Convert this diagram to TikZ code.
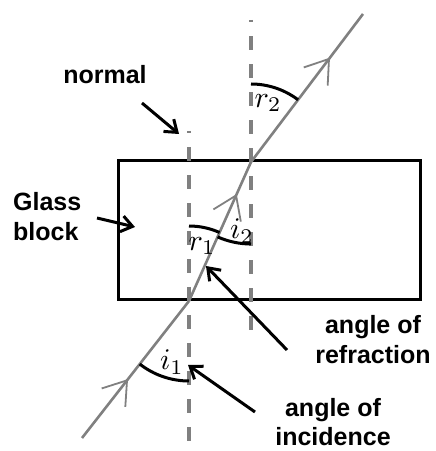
\RequirePackage{fix-cm}
\documentclass[tikz,border=0pt]{standalone}
\usepackage{fontspec}
\setmainfont{Liberation Sans}
\usetikzlibrary{arrows.meta,decorations.markings}
\definecolor{rayc}{RGB}{128,128,128}
\definecolor{normc}{RGB}{128,128,128}
\begin{document}
\begin{tikzpicture}[x=1pt,y=1pt,
  lbl/.style={font=\fontsize{25}{30}\selectfont\bfseries, align=center, inner sep=0pt},
  pointer/.style={line width=3pt, -{Straight Barb[length=11pt,width=16pt]}},
  normalline/.style={draw=normc, line width=3.5pt, dash pattern=on 13.5pt off 14.5pt},
  ray/.style={draw=rayc, line width=2.6pt},
  anglearc/.style={line width=3pt},
  raymark/.style={postaction={decorate}, decoration={markings, mark=at position #1 with {\arrow[line width=1.8pt]{Straight Barb[length=22pt,width=30pt]}}}},
  sym/.style={scale=3, inner sep=0pt}]
\useasboundingbox (0,0) rectangle (436,451);

% glass block
\node[draw, line width=3pt, minimum width=302pt, minimum height=139pt, inner sep=0pt, anchor=south west] (block) at (117,150) {};

% normals
\coordinate (N1top) at (189,320);
\coordinate (N1bot) at (189,0);
\coordinate (N2top) at (251,431);
\coordinate (N2bot) at (251,114);
\draw[normalline, dash phase=11.5pt] (N1top) -- (N1bot);
\draw[normalline, dash phase=11.5pt] (N2top) -- (N2bot);

% ray
\coordinate (P0) at (82,13);
\coordinate (A) at (189,150);
\coordinate (B) at (251,289);
\coordinate (P3) at (363,437);
\draw[ray, raymark=0.43] (P0) -- (A);
\draw[ray, raymark=0.77] (A) -- (B);
\draw[ray, raymark=0.705] (B) -- (P3);

% angle arcs
\draw[anglearc] ([shift={(90:78)}]B) arc[start angle=90, end angle=52.9, radius=78];
\draw[anglearc] ([shift={(245.96:82)}]B) arc[start angle=245.96, end angle=270, radius=82];
\draw[anglearc] ([shift={(90:75)}]A) arc[start angle=90, end angle=65.96, radius=75];
\draw[anglearc] ([shift={(232:80)}]A) arc[start angle=232, end angle=270, radius=80];

% angle symbols
\node[sym] (si1) at (172,89) {$i_1$};
\node[sym] (sr1) at (202,205) {$r_1$};
\node[sym] (si2) at (242,220) {$i_2$};
\node[sym] (sr2) at (268,348) {$r_2$};

% labels
\node[lbl] (lnormal) at (105,376) {normal};
\node[lbl, align=left, anchor=west] (lglass) at (13,234) {Glass\\block};
\node[lbl] (lrefr) at (373,111) {angle of\\refraction};
\node[lbl, font=\fontsize{25}{29}\selectfont\bfseries] (linc) at (333,29) {angle of\\incidence};

% pointers
\coordinate (pn0) at (142,348);
\coordinate (pn1) at (179,317);
\coordinate (pg0) at (97,233);
\coordinate (pg1) at (135,224);
\coordinate (pr0) at (287,101);
\coordinate (pr1) at (206,185);
\coordinate (pi0) at (255,39);
\coordinate (pi1) at (188,86);
\draw[pointer] (pn0) -- (pn1);
\draw[pointer] (pg0) -- (pg1);
\draw[pointer] (pr0) -- (pr1);
\draw[pointer] (pi0) -- (pi1);
\end{tikzpicture}
\end{document}
